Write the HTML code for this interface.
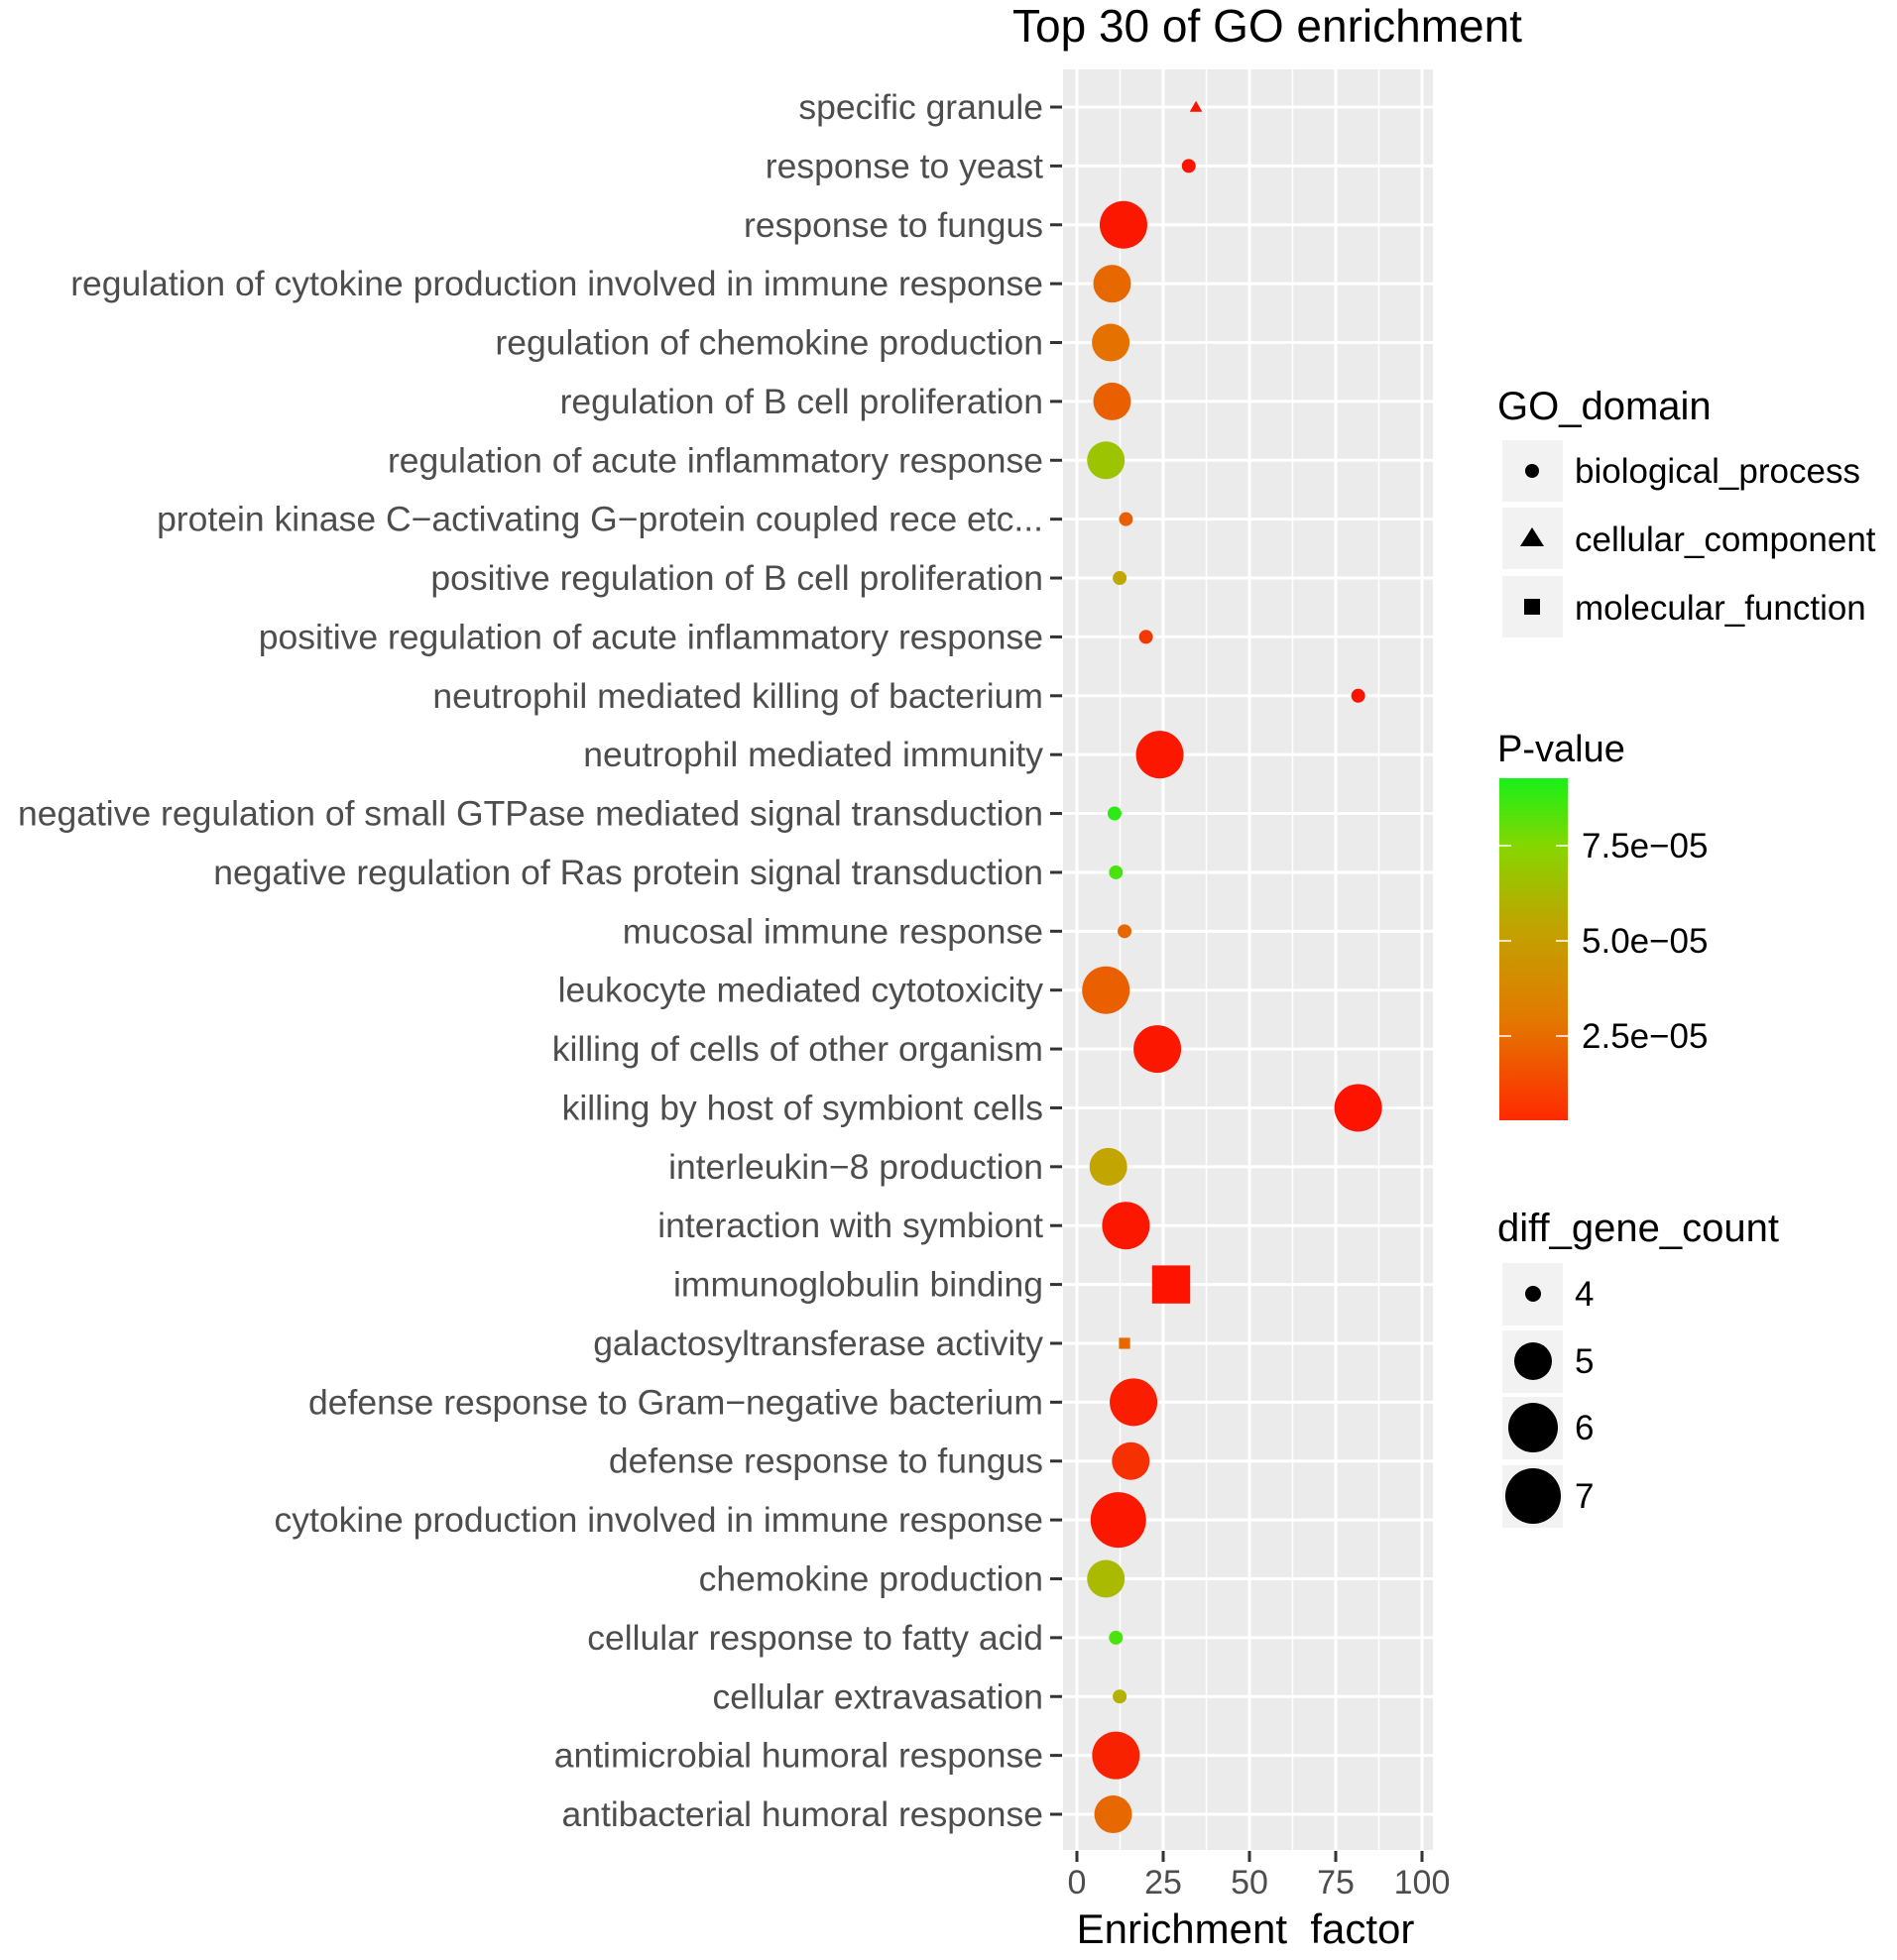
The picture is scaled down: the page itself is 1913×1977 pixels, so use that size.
<!DOCTYPE html>
<html><head><meta charset="utf-8"><style>
body{margin:0;background:#fff;}
svg{display:block;font-family:"Liberation Sans",Arial,sans-serif;}
</style></head><body>
<svg id="chart" width="1913" height="1977" viewBox="0 0 1913 1977">
<defs>
<linearGradient id="pg" x1="0" y1="1" x2="0" y2="0">
<stop offset="0" stop-color="#ff2a00"/>
<stop offset="0.3" stop-color="#e27a00"/>
<stop offset="0.57" stop-color="#c0a400"/>
<stop offset="0.8" stop-color="#86d600"/>
<stop offset="1" stop-color="#18f018"/>
</linearGradient>
</defs>
<text x="1278" y="42" text-anchor="middle" font-size="46" fill="#000">Top 30 of GO enrichment</text>
<rect x="1072" y="70" width="373" height="1796" fill="#ebebeb"/>
<g id="grid"></g>
<g id="yaxis"></g>
<g id="xaxis"></g>
<g id="points"></g>
<text x="1256" y="1960" text-anchor="middle" font-size="42" fill="#000" style="white-space:pre">Enrichment  factor</text>

<g>
<text x="1510" y="423" font-size="40" fill="#000">GO_domain</text>
<rect x="1515" y="444" width="61" height="62" fill="#f2f2f2"/>
<circle cx="1545" cy="475" r="7" fill="#000"/>
<text x="1588" y="487" font-size="35" fill="#000">biological_process</text>
<rect x="1515" y="512" width="61" height="62" fill="#f2f2f2"/>
<polygon points="1545,532 1557,551 1533,551" fill="#000"/>
<text x="1588" y="556" font-size="35" fill="#000">cellular_component</text>
<rect x="1515" y="581" width="61" height="62" fill="#f2f2f2"/>
<rect x="1537" y="604" width="16" height="16" fill="#000"/>
<text x="1588" y="625" font-size="35" fill="#000">molecular_function</text>
</g>

<g>
<text x="1510" y="768" font-size="38" fill="#000">P-value</text>
<rect x="1512" y="785" width="69" height="345" fill="url(#pg)"/>
<g id="cbticks"></g>
</g>

<g>
<text x="1510" y="1252" font-size="40" fill="#000">diff_gene_count</text>
<g id="sizelegend"></g>
</g>
</svg>
<script>
const categories=["specific granule","response to yeast","response to fungus","regulation of cytokine production involved in immune response","regulation of chemokine production","regulation of B cell proliferation","regulation of acute inflammatory response","protein kinase C\u2212activating G\u2212protein coupled rece etc...","positive regulation of B cell proliferation","positive regulation of acute inflammatory response","neutrophil mediated killing of bacterium","neutrophil mediated immunity","negative regulation of small GTPase mediated signal transduction","negative regulation of Ras protein signal transduction","mucosal immune response","leukocyte mediated cytotoxicity","killing of cells of other organism","killing by host of symbiont cells","interleukin\u22128 production","interaction with symbiont","immunoglobulin binding","galactosyltransferase activity","defense response to Gram\u2212negative bacterium","defense response to fungus","cytokine production involved in immune response","chemokine production","cellular response to fatty acid","cellular extravasation","antimicrobial humoral response","antibacterial humoral response"];
const enrichment=[34.5,32.4,13.5,10.2,9.8,10.2,8.4,14.2,12.4,20,81.5,24,10.9,11.3,13.8,8.4,23.3,81.5,9.1,14.2,27.3,13.8,16.4,15.6,12,8.4,11.3,12.4,11.3,10.5];
const pvalues=[0.2,0.2,0.3,2.0,2.2,1.8,6.5,1.8,5.0,1.0,0.2,0.3,9.0,8.5,2.0,1.8,0.3,0.2,4.8,0.3,0.2,2.0,0.4,0.8,0.3,6.0,8.5,5.5,0.5,2.0];
const geneCounts=[4,4,6,5,5,5,5,4,4,4,4,6,4,4,4,6,6,6,5,6,6,4,6,5,7,5,4,4,6,5];
const domains=["CC","BP","BP","BP","BP","BP","BP","BP","BP","BP","BP","BP","BP","BP","BP","BP","BP","BP","BP","BP","MF","MF","BP","BP","BP","BP","BP","BP","BP","BP"];
const xTicks=[0,25,50,75,100];
const pTicks=[2.5,5.0,7.5];
const pTickLabels=["2.5e\u221205","5.0e\u221205","7.5e\u221205"];
const sizeLevels=[4,5,6,7];

const NS="http://www.w3.org/2000/svg";
function mk(tag,attrs,parent){const e=document.createElementNS(NS,tag);for(const k in attrs)e.setAttribute(k,attrs[k]);parent.appendChild(e);return e;}
const xs=v=>1086+v*3.48;
const ys=i=>108+i*59.38;
const radius=c=>({4:7,5:19,6:24,7:28})[c]||(7+(c-4)*7);
const cbY=p=>1141-p*38.4;
const stops=[[0,[255,10,0]],[2.5,[226,128,0]],[5,[192,168,0]],[7.5,[134,214,0]],[9.3,[24,240,24]]];
function color(p){for(let i=0;i<stops.length-1;i++){const[a,ca]=stops[i],[b,cb]=stops[i+1];if(p<=b||i===stops.length-2){const t=Math.max(0,Math.min(1,(p-a)/(b-a)));return`rgb(${ca.map((c,j)=>Math.round(c+(cb[j]-c)*t)).join(",")})`;}}}

const grid=document.getElementById("grid");
for(let k=0;k<xTicks.length-1;k++){const m=(xTicks[k]+xTicks[k+1])/2;const l=mk("line",{x1:xs(m),x2:xs(m),y1:70,y2:1866,stroke:"#fff","stroke-width":1.5},grid);

}
xTicks.forEach(t=>{const l=mk("line",{x1:xs(t),x2:xs(t),y1:70,y2:1866,stroke:"#fff","stroke-width":3},grid);

});
categories.forEach((c,i)=>{const l=mk("line",{x1:1072,x2:1445,y1:ys(i),y2:ys(i),stroke:"#fff","stroke-width":3},grid);

});

const ya=document.getElementById("yaxis");
categories.forEach((c,i)=>{
 const t=mk("text",{x:1052,y:ys(i)+12,"text-anchor":"end","font-size":35.5,fill:"#4d4d4d"},ya);t.textContent=c;
 
 
 const tk=mk("line",{x1:1059,x2:1071,y1:ys(i),y2:ys(i),stroke:"#333","stroke-width":3},ya);
 
 
});
const xa=document.getElementById("xaxis");
xTicks.forEach(v=>{
 const tk=mk("line",{x1:xs(v),x2:xs(v),y1:1867,y2:1878,stroke:"#333","stroke-width":3},xa);
 
 
 const t=mk("text",{x:xs(v),y:1910,"text-anchor":"middle","font-size":34,fill:"#4d4d4d"},xa);t.textContent=v;
 
 
});

const pts=document.getElementById("points");
categories.forEach((c,i)=>{
 const cx=xs(enrichment[i]),cy=ys(i),r=radius(geneCounts[i]),f=color(pvalues[i]);let e;
 if(domains[i]==="CC"){const h=r*1.5;e=mk("polygon",{points:`${cx},${cy-h*0.6} ${cx+h*0.6},${cy+h*0.45} ${cx-h*0.6},${cy+h*0.45}`,fill:f},pts);}
 else if(domains[i]==="MF"){const s=r*0.8;e=mk("rect",{x:cx-s,y:cy-s,width:2*s,height:2*s,fill:f},pts);}
 else e=mk("circle",{cx:cx,cy:cy,r:r,fill:f},pts);
 
 
});

const cbt=document.getElementById("cbticks");
pTicks.forEach((p,k)=>{
 const y=cbY(p);
 const a=mk("line",{x1:1512,x2:1524,y1:y,y2:y,stroke:"#fff","stroke-width":1.5},cbt);
 
 
 const b=mk("line",{x1:1569,x2:1581,y1:y,y2:y,stroke:"#fff","stroke-width":1.5},cbt);
 
 
 const t=mk("text",{x:1595,y:y+12,"font-size":35,fill:"#000"},cbt);t.textContent=pTickLabels[k];
 
 
});

const sl=document.getElementById("sizelegend");
const slY=[1305,1373,1440,1509];
sizeLevels.forEach((s,k)=>{
 const bx=mk("rect",{x:1515,y:slY[k]-31,width:61,height:63,fill:"#f2f2f2"},sl);
 
 
 const c=mk("circle",{cx:1546,cy:slY[k],r:({4:8,5:19,6:25,7:28})[s],fill:"#000"},sl);
 
 
 const t=mk("text",{x:1588,y:slY[k]+12,"font-size":35,fill:"#000"},sl);t.textContent=s;
 
 
});
</script>
</body></html>
